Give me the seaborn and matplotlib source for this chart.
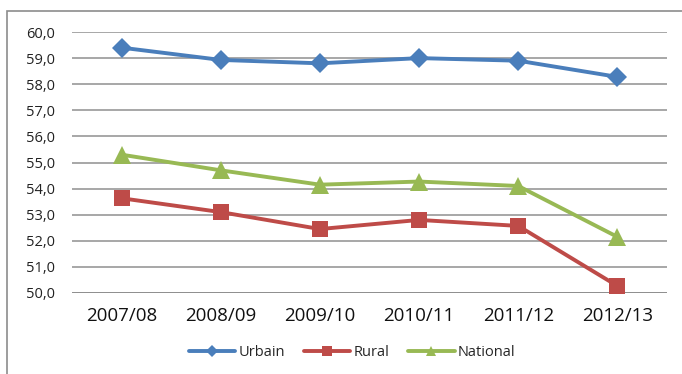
import matplotlib
matplotlib.use("Agg")
import matplotlib.pyplot as plt
import seaborn as sns
import pandas as pd
from matplotlib.patches import Rectangle
from matplotlib.lines import Line2D

years = ["2007/08", "2008/09", "2009/10", "2010/11", "2011/12", "2012/13"]
urbain = [59.4, 58.93, 58.8, 59.0, 58.9, 58.28]
rural = [53.63, 53.1, 52.45, 52.8, 52.57, 50.27]
national = [55.3, 54.7, 54.15, 54.27, 54.1, 52.15]

series = ["Urbain", "Rural", "National"]
colors = {"Urbain": "#4a7ebb", "Rural": "#be4b48", "National": "#98b954"}
markers = {"Urbain": "D", "Rural": "s", "National": "^"}
msizes = {"Urbain": 10.5, "Rural": 12, "National": 12.5}

df = pd.DataFrame({
    "pos": list(range(len(years))) * 3,
    "value": urbain + rural + national,
    "serie": [s for s in series for _ in years],
})

sns.set_theme(style="white")
plt.rcParams["font.family"] = ["Open Sans", "DejaVu Sans"]

fig = plt.figure(figsize=(6.82, 3.74), dpi=100)
ax = fig.add_axes([72 / 682, 1 - 293 / 374, (667 - 72) / 682, (293 - 32) / 374])

for s in series:
    sub = df[df["serie"] == s]
    sns.lineplot(data=sub, x="pos", y="value", ax=ax, color=colors[s],
                 marker=markers[s], markersize=msizes[s], markeredgewidth=0,
                 linewidth=2.8, legend=False, zorder=3)

ax.set_xlim(-0.5, len(years) - 0.5)
ax.set_ylim(50, 60)
ax.set_yticks([50 + i for i in range(11)])
ax.set_yticklabels([f"{50 + i},0" for i in range(11)], fontsize=10.5, color="#222222")
ax.set_xticks(range(len(years)))
ax.set_xticklabels(years, fontsize=13.5, color="#111111")
ax.tick_params(axis="x", length=0, pad=10)
ax.tick_params(axis="y", length=0, pad=12)
ax.set_xlabel("")
ax.set_ylabel("")
ax.grid(axis="y", color="#a0a0a0", linewidth=1.3)
for sp in ax.spines.values():
    sp.set_visible(False)
ax.axhline(50, color="#888888", linewidth=1.8, zorder=2)

# outer chart frame
frame = Rectangle((7 / 682, -0.1), 1.2, 1 - 11 / 374 + 0.1, transform=fig.transFigure,
                  fill=False, edgecolor="#8c8c8c", linewidth=1.2)
fig.patches.append(frame)

handles = [Line2D([], [], color=colors[s], marker=markers[s], markersize=msizes[s] * 0.55,
                  markeredgewidth=0, linewidth=2.8) for s in series]
fig.legend(handles, series, loc="center", bbox_to_anchor=(352 / 682, 1 - 353 / 374),
           ncol=3, frameon=False, fontsize=10.5, handlelength=3.2, columnspacing=1.3,
           handletextpad=0.2)

fig.savefig("out.png", dpi=100)
